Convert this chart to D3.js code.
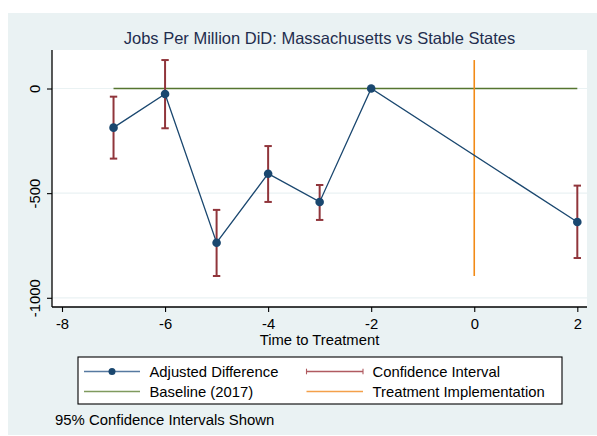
<!DOCTYPE html>
<html>
<head>
<meta charset="utf-8">
<script src="https://cdn.jsdelivr.net/npm/d3@7"></script>
<style>
  html, body { margin: 0; padding: 0; background: #ffffff; }
  svg { display: block; font-family: "Liberation Sans", Arial, Helvetica, sans-serif; }
</style>
</head>
<body>
<svg id="chart" width="597" height="436"></svg>
<script>
// Event-study estimates: years relative to treatment
const periods = [-7, -6, -5, -4, -3, -2, 2];
const adjustedDiff = [-187, -26, -737, -407, -542, 0, -638];
const ciLow = [-335, -190, -896, -542, -628, 0, -810];
const ciHigh = [-39, 136, -580, -275, -461, 0, -464];

const xTicks = [-8, -6, -4, -2, 0, 2];
const yTicks = [0, -500, -1000];
const baselineValue = 0;
const treatmentTime = 0;

const titleText = "Jobs Per Million DiD: Massachusetts vs Stable States";
const xTitle = "Time to Treatment";
const legendLabels = ["Adjusted Difference", "Confidence Interval", "Baseline (2017)", "Treatment Implementation"];
const noteText = "95% Confidence Intervals Shown";

const C = {
  outer: "#eaf2f3",
  grid: "#eaf2f3",
  navy: "#1a476f",
  maroon: "#90353b",
  green: "#55752f",
  orange: "#f28a16",
  text: "#000000",
  title: "#1f2d4e"
};
// softer tones used for the legend key strokes
const keyC = { navy: "#5679a0", maroon: "#b05a60", green: "#7f9a5e", orange: "#f4a04a" };

// plain hyphen-minus for negative tick labels
const fmt = d => String(d);

const svg = d3.select("#chart");
const plot = { left: 52, right: 587, top: 50, bottom: 307 };

// outer graph region
svg.append("rect").attr("x", 8).attr("y", 13).attr("width", 589).attr("height", 422).attr("fill", C.outer);
// plot region
svg.append("rect").attr("x", plot.left).attr("y", plot.top)
  .attr("width", plot.right - plot.left).attr("height", plot.bottom - plot.top).attr("fill", "#ffffff");

const x = d3.scaleLinear().domain([-8.194, 2.188]).range([plot.left, plot.right]);
const y = d3.scaleLinear().domain([-1044, 184]).range([plot.bottom, plot.top]);

// gridlines
svg.append("g").selectAll("line").data(yTicks).join("line")
  .attr("x1", plot.left).attr("x2", plot.right)
  .attr("y1", d => y(d)).attr("y2", d => y(d))
  .attr("stroke", C.grid).attr("stroke-width", 1.2);

// axes
const xAxis = svg.append("g").attr("transform", `translate(0,${plot.bottom})`)
  .call(d3.axisBottom(x).tickValues(xTicks).tickSize(5).tickPadding(6).tickFormat(fmt));
const yAxis = svg.append("g").attr("transform", `translate(${plot.left},0)`)
  .call(d3.axisLeft(y).tickValues(yTicks).tickSize(5).tickFormat(fmt));

[xAxis, yAxis].forEach(g => {
  g.select(".domain").attr("stroke", "#000").attr("stroke-width", 1.3);
  g.selectAll(".tick line").attr("stroke", "#000").attr("stroke-width", 1.1);
  g.selectAll("text").attr("fill", C.text).style("font-size", "14.8px");
});
xAxis.select(".domain").attr("d", `M${plot.left},0H${plot.right}`);
yAxis.select(".domain").attr("d", `M0,${plot.top}V${plot.bottom}`);
xAxis.selectAll(".tick text").attr("dy", "0.71em");
yAxis.selectAll(".tick text")
  .attr("transform", "rotate(-90)")
  .attr("x", 0).attr("y", -12.5)
  .attr("dy", 0)
  .attr("text-anchor", "middle");

// baseline
svg.append("line")
  .attr("x1", x(d3.min(periods))).attr("x2", x(d3.max(periods)))
  .attr("y1", y(baselineValue)).attr("y2", y(baselineValue))
  .attr("stroke", C.green).attr("stroke-width", 1.6);

// treatment implementation line spans the CI range
svg.append("line")
  .attr("x1", x(treatmentTime)).attr("x2", x(treatmentTime))
  .attr("y1", y(d3.max(ciHigh))).attr("y2", y(d3.min(ciLow)))
  .attr("stroke", C.orange).attr("stroke-width", 1.6);

// confidence intervals
const ci = svg.append("g").attr("stroke", C.maroon).attr("stroke-width", 2);
periods.forEach((p, i) => {
  if (ciHigh[i] === ciLow[i]) return;
  const cx = x(p), cap = 3.7;
  ci.append("line").attr("x1", cx).attr("x2", cx).attr("y1", y(ciLow[i])).attr("y2", y(ciHigh[i]));
  ci.append("line").attr("x1", cx - cap).attr("x2", cx + cap).attr("y1", y(ciLow[i])).attr("y2", y(ciLow[i]));
  ci.append("line").attr("x1", cx - cap).attr("x2", cx + cap).attr("y1", y(ciHigh[i])).attr("y2", y(ciHigh[i]));
});

// adjusted difference line + markers
const pts = periods.map((p, i) => [p, adjustedDiff[i]]);
svg.append("path").datum(pts)
  .attr("d", d3.line().x(d => x(d[0])).y(d => y(d[1])))
  .attr("fill", "none").attr("stroke", C.navy).attr("stroke-width", 1.3);
svg.append("g").selectAll("circle").data(pts).join("circle")
  .attr("cx", d => x(d[0])).attr("cy", d => y(d[1])).attr("r", 4.3)
  .attr("fill", C.navy);

// title
svg.append("text").attr("x", (plot.left + plot.right) / 2).attr("y", 44)
  .attr("text-anchor", "middle").attr("fill", C.title).style("font-size", "16.5px")
  .text(titleText);

// x-axis title
svg.append("text").attr("x", (plot.left + plot.right) / 2).attr("y", 344.5)
  .attr("text-anchor", "middle").attr("fill", C.text).style("font-size", "14.8px")
  .text(xTitle);

// legend
const lg = svg.append("g");
lg.append("rect").attr("x", 78).attr("y", 357).attr("width", 484).attr("height", 47)
  .attr("fill", "#ffffff").attr("stroke", "#000").attr("stroke-width", 1.1);
const rows = [371.5, 391.5];
const colKey = [[84, 140], [306.5, 363]];
const colText = [149.5, 372.5];

// Adjusted Difference key
lg.append("line").attr("x1", colKey[0][0]).attr("x2", colKey[0][1]).attr("y1", rows[0]).attr("y2", rows[0])
  .attr("stroke", keyC.navy).attr("stroke-width", 1.3);
lg.append("circle").attr("cx", (colKey[0][0] + colKey[0][1]) / 2).attr("cy", rows[0]).attr("r", 3.5).attr("fill", C.navy);
// Confidence Interval key
lg.append("line").attr("x1", colKey[1][0]).attr("x2", colKey[1][1]).attr("y1", rows[0]).attr("y2", rows[0])
  .attr("stroke", keyC.maroon).attr("stroke-width", 1.3);
[colKey[1][0], colKey[1][1]].forEach(cx => lg.append("line")
  .attr("x1", cx).attr("x2", cx).attr("y1", rows[0] - 2.8).attr("y2", rows[0] + 2.8)
  .attr("stroke", keyC.maroon).attr("stroke-width", 1.1));
// Baseline key
lg.append("line").attr("x1", colKey[0][0]).attr("x2", colKey[0][1]).attr("y1", rows[1]).attr("y2", rows[1])
  .attr("stroke", keyC.green).attr("stroke-width", 1.3);
// Treatment key
lg.append("line").attr("x1", colKey[1][0]).attr("x2", colKey[1][1]).attr("y1", rows[1]).attr("y2", rows[1])
  .attr("stroke", keyC.orange).attr("stroke-width", 1.3);

const textPos = [[colText[0], rows[0]], [colText[1], rows[0]], [colText[0], rows[1]], [colText[1], rows[1]]];
legendLabels.forEach((t, i) => {
  lg.append("text").attr("x", textPos[i][0]).attr("y", textPos[i][1] + 5.3)
    .attr("fill", C.text).style("font-size", "14.8px").text(t);
});

// note
svg.append("text").attr("x", 55).attr("y", 424.5)
  .attr("fill", C.text).style("font-size", "14.9px").text(noteText);
</script>
</body>
</html>
